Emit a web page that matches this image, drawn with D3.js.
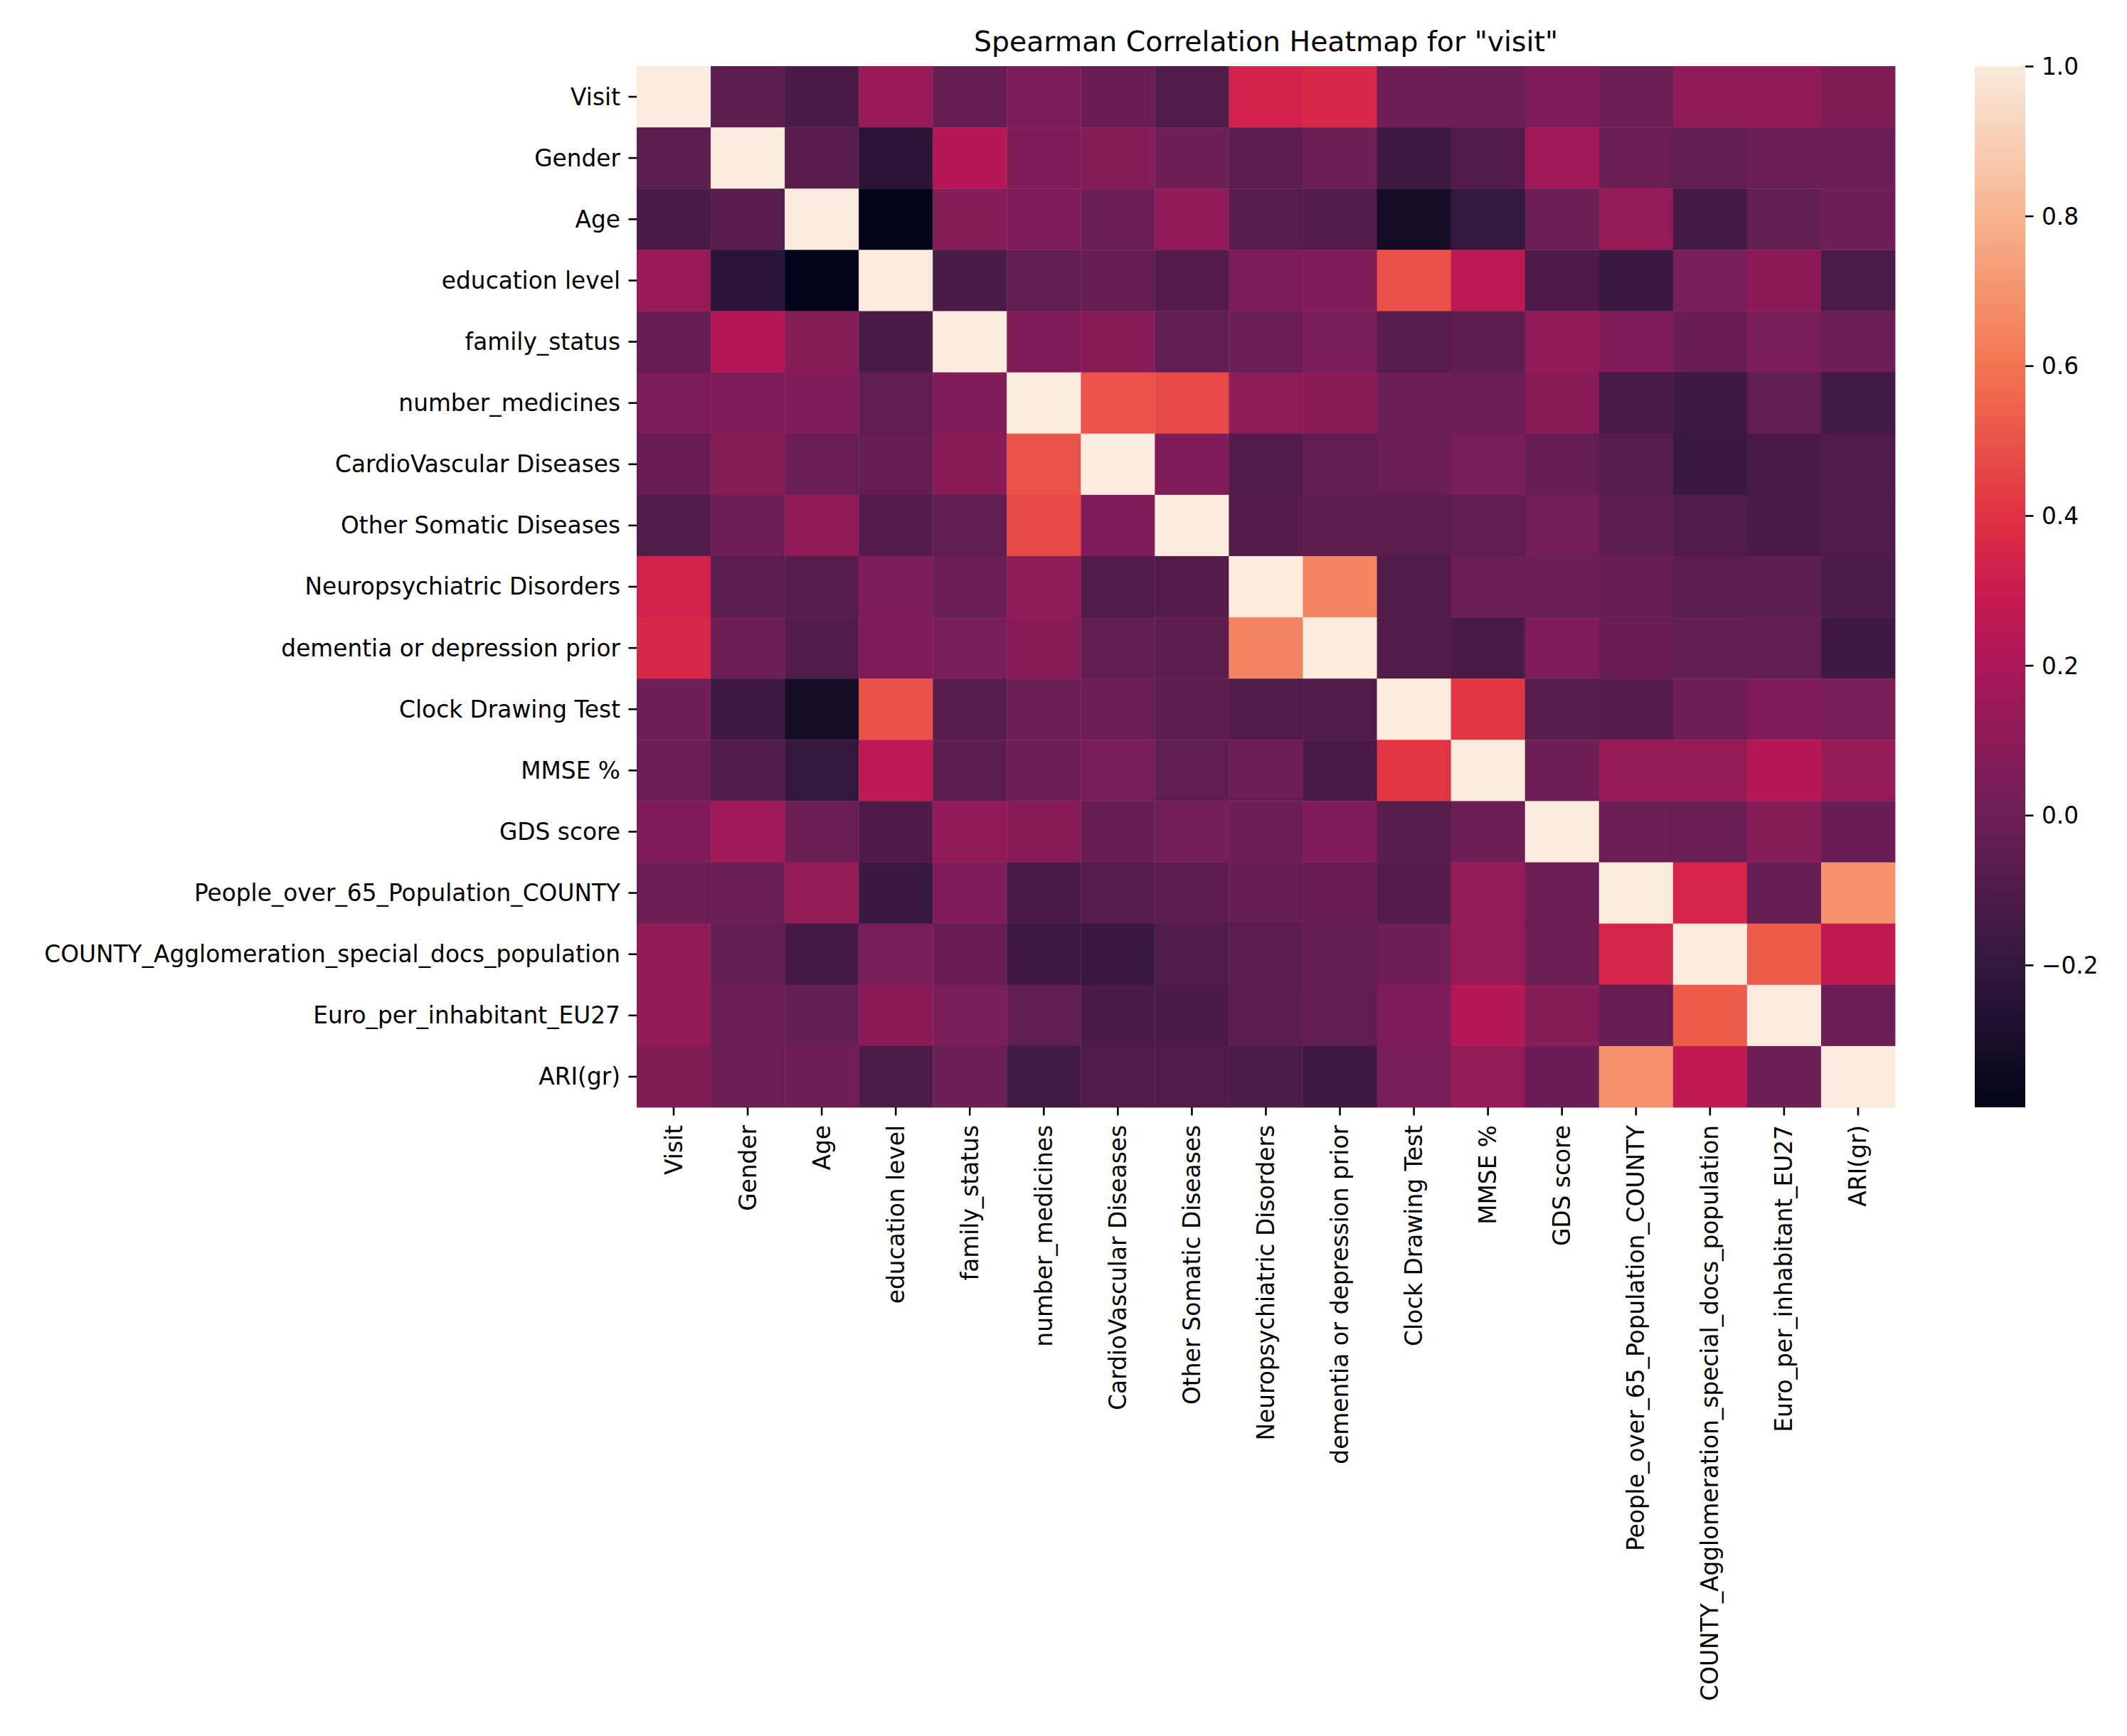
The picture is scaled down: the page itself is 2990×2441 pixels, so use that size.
<!DOCTYPE html>
<html>
<head>
<meta charset="utf-8">
<script src="https://cdn.jsdelivr.net/npm/d3@7"></script>
<style>
html, body { margin: 0; padding: 0; background: #ffffff; }
svg { display: block; }
</style>
</head>
<body>
<script>
// ---------------- DATA ----------------
const chartTitle = 'Spearman Correlation Heatmap for "visit"';

const variables = [
  "Visit", "Gender", "Age", "education level", "family_status", "number_medicines",
  "CardioVascular Diseases", "Other Somatic Diseases", "Neuropsychiatric Disorders",
  "dementia or depression prior", "Clock Drawing Test", "MMSE %", "GDS score",
  "People_over_65_Population_COUNTY", "COUNTY_Agglomeration_special_docs_population",
  "Euro_per_inhabitant_EU27", "ARI(gr)"
];

// Spearman correlation matrix (rows/cols in the order of `variables`)
const correlations = [
  [1.00, -0.06, -0.12, 0.14, -0.03, 0.045, -0.02, -0.10, 0.34, 0.36, 0.00, -0.01, 0.06, -0.005, 0.11, 0.12, 0.055],
  [-0.06, 1.00, -0.07, -0.23, 0.23, 0.06, 0.08, 0.00, -0.06, 0.00, -0.16, -0.095, 0.167, -0.015, -0.04, -0.005, -0.015],
  [-0.12, -0.07, 1.00, -0.39, 0.075, 0.06, -0.01, 0.11, -0.08, -0.095, -0.32, -0.20, -0.005, 0.135, -0.14, -0.035, 0.00],
  [0.14, -0.23, -0.39, 1.00, -0.12, -0.05, -0.03, -0.09, 0.045, 0.06, 0.49, 0.26, -0.105, -0.175, 0.04, 0.095, -0.11],
  [-0.03, 0.23, 0.075, -0.12, 1.00, 0.06, 0.09, -0.04, -0.015, 0.035, -0.08, -0.054, 0.115, 0.06, -0.02, 0.035, -0.005],
  [0.045, 0.06, 0.06, -0.05, 0.06, 1.00, 0.50, 0.47, 0.10, 0.09, -0.005, -0.01, 0.09, -0.117, -0.16, -0.04, -0.157],
  [-0.02, 0.08, -0.01, -0.03, 0.09, 0.50, 1.00, 0.06, -0.095, -0.04, -0.01, 0.04, -0.033, -0.08, -0.175, -0.12, -0.095],
  [-0.10, 0.00, 0.11, -0.09, -0.04, 0.47, 0.06, 1.00, -0.09, -0.055, -0.066, -0.05, 0.02, -0.055, -0.094, -0.12, -0.095],
  [0.34, -0.06, -0.08, 0.045, -0.015, 0.10, -0.095, -0.09, 1.00, 0.65, -0.10, -0.01, -0.005, -0.026, -0.066, -0.06, -0.11],
  [0.36, 0.00, -0.095, 0.06, 0.035, 0.09, -0.04, -0.055, 0.65, 1.00, -0.097, -0.12, 0.06, -0.02, -0.04, -0.04, -0.16],
  [0.00, -0.16, -0.32, 0.49, -0.08, -0.005, -0.01, -0.066, -0.10, -0.097, 1.00, 0.41, -0.08, -0.09, 0.00, 0.053, 0.04],
  [-0.01, -0.095, -0.20, 0.26, -0.054, -0.01, 0.04, -0.05, -0.01, -0.12, 0.41, 1.00, 0.00, 0.131, 0.131, 0.233, 0.128],
  [0.06, 0.167, -0.005, -0.105, 0.115, 0.09, -0.033, 0.02, -0.005, 0.06, -0.08, 0.00, 1.00, -0.015, -0.015, 0.08, -0.02],
  [-0.005, -0.015, 0.135, -0.175, 0.06, -0.117, -0.08, -0.055, -0.026, -0.02, -0.09, 0.131, -0.015, 1.00, 0.35, -0.033, 0.69],
  [0.11, -0.04, -0.14, 0.04, -0.02, -0.16, -0.175, -0.094, -0.066, -0.04, 0.00, 0.131, -0.015, 0.35, 1.00, 0.526, 0.27],
  [0.12, -0.005, -0.035, 0.095, 0.035, -0.04, -0.12, -0.12, -0.06, -0.04, 0.053, 0.233, 0.08, -0.033, 0.526, 1.00, -0.005],
  [0.055, -0.015, 0.00, -0.11, -0.005, -0.157, -0.095, -0.095, -0.11, -0.16, 0.04, 0.128, -0.02, 0.69, 0.27, -0.005, 1.00]
];

const colorbarTicks = [-0.2, 0.0, 0.2, 0.4, 0.6, 0.8, 1.0];

// seaborn "rocket" colormap anchors
const rocketStops  = [0, 1/7, 2/7, 3/7, 0.5, 4/7, 5/7, 6/7, 1];
const rocketColors = ["#03051a", "#35193e", "#701f57", "#ad1759", "#cb1b4f", "#e13342", "#f37651", "#f6b48f", "#faebdd"];

// ---------------- LAYOUT ----------------
const W = 2990, H = 2441;
const plot = { left: 895, right: 2664, top: 93, bottom: 1557 };
const cbar = { left: 2776, right: 2847 };
const FONT = "'DejaVu Sans', 'Liberation Sans', sans-serif";
const tickFont = 32.8, titleFont = 39.4;
const tickLen = 11.5, tickPad = 11.5, tickW = 2.6;

const svg = d3.select("body").append("svg")
  .attr("width", W).attr("height", H)
  .attr("viewBox", `0 0 ${W} ${H}`);
svg.append("rect").attr("width", W).attr("height", H).attr("fill", "#ffffff");

const x = d3.scaleBand().domain(variables).range([plot.left, plot.right]).padding(0);
const y = d3.scaleBand().domain(variables).range([plot.top, plot.bottom]).padding(0);

const allVals = correlations.flat();
const vmin = d3.min(allVals), vmax = d3.max(allVals);

const cmap = d3.scaleLinear().domain(rocketStops).range(rocketColors)
  .interpolate(d3.interpolateRgb).clamp(true);
const colorOf = v => cmap((v - vmin) / (vmax - vmin));

// ---------------- CELLS ----------------
const cells = [];
correlations.forEach((row, i) => row.forEach((v, j) => cells.push({ r: variables[i], c: variables[j], v })));

svg.append("g").selectAll("rect").data(cells).join("rect")
  .attr("x", d => x(d.c))
  .attr("y", d => y(d.r))
  .attr("width", x.bandwidth() + 0.4)
  .attr("height", y.bandwidth() + 0.4)
  .attr("fill", d => colorOf(d.v));

// ---------------- AXES ----------------
function styleAxis(g) {
  g.select(".domain").remove();
  g.selectAll(".tick line").attr("stroke", "#000").attr("stroke-width", tickW);
  g.selectAll(".tick text").attr("fill", "#000")
    .style("font-family", FONT).style("font-size", tickFont + "px");
}

const yAxis = svg.append("g")
  .attr("transform", `translate(${plot.left},0)`)
  .call(d3.axisLeft(y).tickSize(tickLen).tickPadding(tickPad));
styleAxis(yAxis);
yAxis.selectAll(".tick text").attr("dy", "0.35em");

const xAxis = svg.append("g")
  .attr("transform", `translate(0,${plot.bottom})`)
  .call(d3.axisBottom(x).tickSize(tickLen).tickPadding(tickPad));
styleAxis(xAxis);
xAxis.selectAll(".tick text")
  .attr("transform", "rotate(-90)")
  .attr("x", -(tickLen + tickPad + 2))
  .attr("y", 0)
  .attr("dy", "0.35em")
  .attr("text-anchor", "end");

// ---------------- COLORBAR ----------------
const defs = svg.append("defs");
const grad = defs.append("linearGradient").attr("id", "cbgrad")
  .attr("x1", 0).attr("y1", 1).attr("x2", 0).attr("y2", 0);
grad.selectAll("stop").data(d3.range(0, 257).map(k => k / 256)).join("stop")
  .attr("offset", t => t)
  .attr("stop-color", t => cmap(t));

svg.append("rect")
  .attr("x", cbar.left).attr("y", plot.top)
  .attr("width", cbar.right - cbar.left).attr("height", plot.bottom - plot.top)
  .attr("fill", "url(#cbgrad)");

const cy = d3.scaleLinear().domain([vmin, vmax]).range([plot.bottom, plot.top]);
const cAxis = svg.append("g")
  .attr("transform", `translate(${cbar.right},0)`)
  .call(d3.axisRight(cy).tickValues(colorbarTicks).tickFormat(d3.format(".1f"))
    .tickSize(tickLen).tickPadding(tickPad));
styleAxis(cAxis);
cAxis.selectAll(".tick text").attr("dy", "0.35em");

// ---------------- TITLE ----------------
svg.append("text")
  .attr("x", (plot.left + plot.right) / 2)
  .attr("y", 72)
  .attr("text-anchor", "middle")
  .attr("fill", "#000")
  .style("font-family", FONT)
  .style("font-size", titleFont + "px")
  .text(chartTitle);
</script>
</body>
</html>
